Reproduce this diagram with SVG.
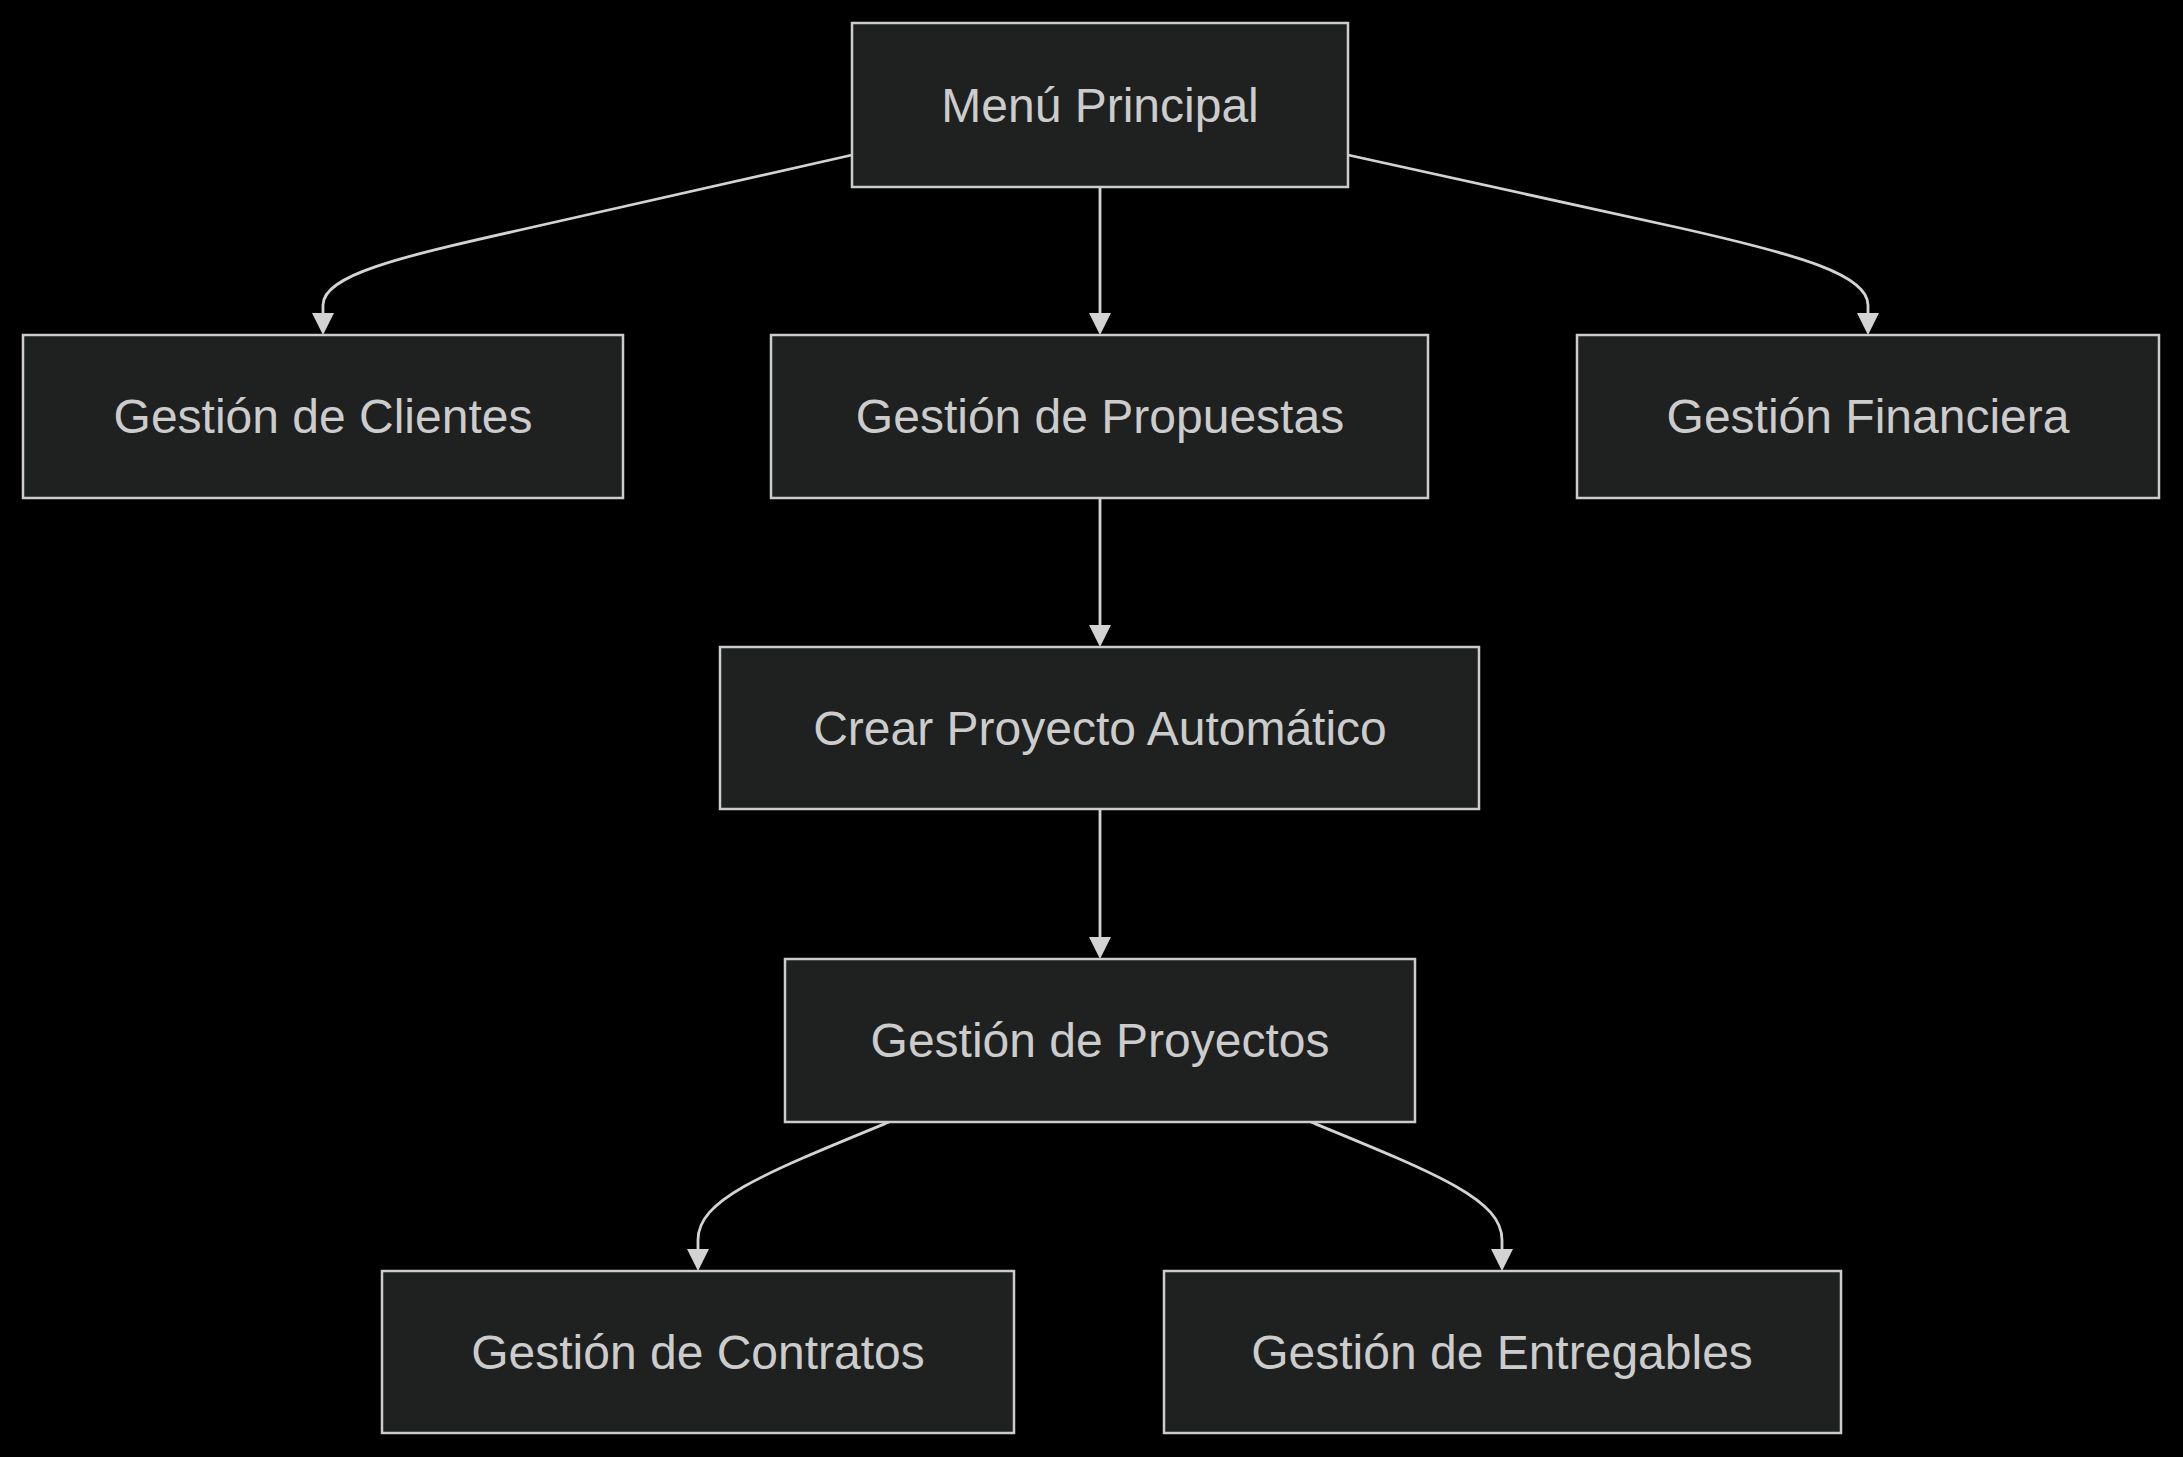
<svg xmlns="http://www.w3.org/2000/svg" width="2183" height="1457" viewBox="0 0 2183 1457">
<style>
.node rect{fill:#1f2020;stroke:#cccccc;stroke-width:2.5}
.node text{fill:#cccccc;font-family:"Liberation Sans",Arial,sans-serif;font-size:48px;text-anchor:middle}
.edge{fill:none;stroke:#d3d3d3;stroke-width:2.8}
</style>
<defs>
<marker id="arrow" viewBox="0 0 10 10" refX="0" refY="5" markerUnits="userSpaceOnUse" markerWidth="22" markerHeight="22" orient="auto">
<path d="M0,0 L10,5 L0,10 z" fill="#d3d3d3"/>
</marker>
</defs>
<rect width="2183" height="1457" fill="#000000"/>
<g id="connectors">
<path class="edge" d="M852,155 L520,230 C400,257 323,275 323,305 L323,313" marker-end="url(#arrow)"/>
<path class="edge" d="M1100,187 L1100,313" marker-end="url(#arrow)"/>
<path class="edge" d="M1348,155 L1680,228 C1800,255 1868,275 1868,305 L1868,313" marker-end="url(#arrow)"/>
<path class="edge" d="M1100,498 L1100,625" marker-end="url(#arrow)"/>
<path class="edge" d="M1100,809 L1100,937" marker-end="url(#arrow)"/>
<path class="edge" d="M889,1122 C760,1175 698,1200 698,1240 L698,1249" marker-end="url(#arrow)"/>
<path class="edge" d="M1311,1122 C1440,1175 1502,1200 1502,1240 L1502,1249" marker-end="url(#arrow)"/>
</g>
<g id="menu" class="node"><rect x="852" y="23" width="496" height="164"/><text x="1100" y="122">Menú Principal</text></g>
<g id="clientes" class="node"><rect x="23" y="335" width="600" height="163"/><text x="323" y="433">Gestión de Clientes</text></g>
<g id="propuestas" class="node"><rect x="771" y="335" width="657" height="163"/><text x="1100" y="433">Gestión de Propuestas</text></g>
<g id="financiera" class="node"><rect x="1577" y="335" width="582" height="163"/><text x="1868" y="433">Gestión Financiera</text></g>
<g id="crear" class="node"><rect x="720" y="647" width="759" height="162"/><text x="1100" y="745">Crear Proyecto Automático</text></g>
<g id="proyectos" class="node"><rect x="785" y="959" width="630" height="163"/><text x="1100" y="1057">Gestión de Proyectos</text></g>
<g id="contratos" class="node"><rect x="382" y="1271" width="632" height="162"/><text x="698" y="1369">Gestión de Contratos</text></g>
<g id="entregables" class="node"><rect x="1164" y="1271" width="677" height="162"/><text x="1502" y="1369">Gestión de Entregables</text></g>
</svg>
